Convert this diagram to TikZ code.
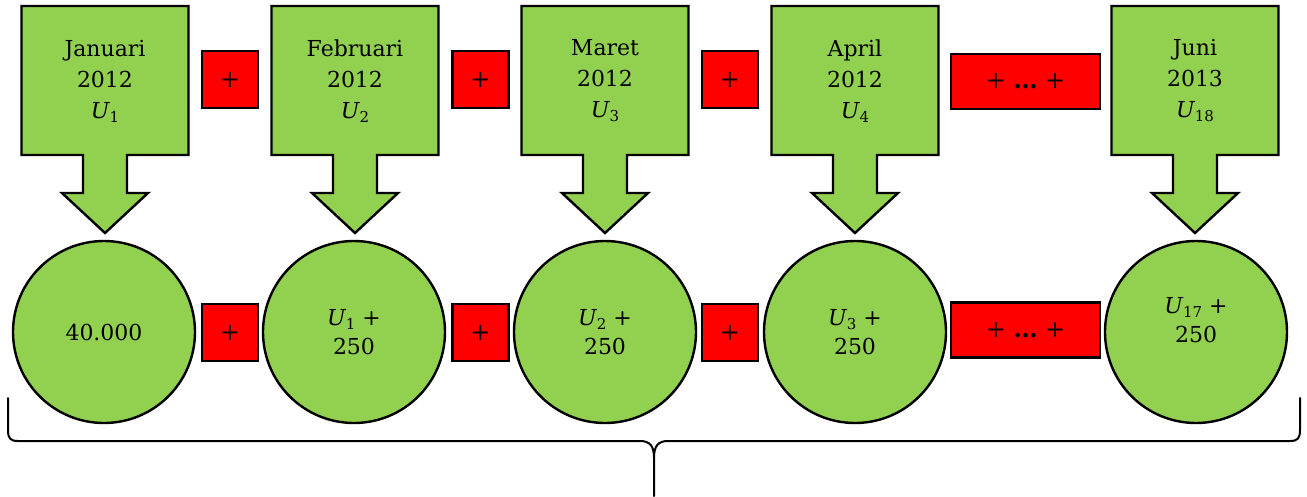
\documentclass[tikz,border=0pt]{standalone}
\usepackage{fontspec}
\setmainfont{DejaVu Serif}
\definecolor{boxgreen}{HTML}{92D050}
\definecolor{boxred}{HTML}{FF0000}
\newcommand\Uc[1]{\textit{U}\kern-0.5pt\raisebox{-4pt}{\fontsize{15}{15}\selectfont #1}}
\tikzset{
  calloutshape/.style={fill=boxgreen, draw=black, line width=2.4pt, line join=miter},
  calltext/.style={align=center, font=\fontsize{22}{31}\selectfont, inner sep=0pt},
  bubble/.style={circle, fill=boxgreen, draw=black, line width=2.4pt, minimum size=182pt, inner sep=0pt, align=center, font=\fontsize{22}{29}\selectfont},
  plusbox/.style={rectangle, fill=boxred, draw=black, line width=2.4pt, minimum width=56pt, minimum height=57pt, inner sep=0pt, font=\fontsize{24}{24}\selectfont},
  widebox/.style={plusbox, minimum width=149pt, minimum height=55pt},
  bracestyle/.style={draw=black, line width=2pt, line cap=round}
}
\begin{document}
\begin{tikzpicture}[x=1pt,y=-1pt]
\useasboundingbox (0,0) rectangle (1307,496);
% callouts
\foreach \cx in {105,355,605,855,1195}{
  \draw[calloutshape] (\cx-83.5,6) -- (\cx+83.5,6) -- (\cx+83.5,155) -- (\cx+22,155) -- (\cx+22,193)
    -- (\cx+43,193) -- (\cx,233) -- (\cx-43,193) -- (\cx-22,193) -- (\cx-22,155) -- (\cx-83.5,155) -- cycle;
}
\node[calltext] (t1) at (105,81) {Januari\\2012\\\Uc{1}};
\node[calltext] (t2) at (355,81) {Februari\\2012\\\Uc{2}};
\node[calltext] (t3) at (605,81) {Maret\\2012\\\Uc{3}};
\node[calltext] (t4) at (855,81) {April\\2012\\\Uc{4}};
\node[calltext] (t5) at (1195,81) {Juni\\2013\\\Uc{18}};
% circles
\node[bubble] (b1) at (104,332) {40.000};
\node[bubble] (b2) at (354,332) {\Uc{1} +\\250};
\node[bubble] (b3) at (605,332) {\Uc{2} +\\250};
\node[bubble] (b4) at (855,332) {\Uc{3} +\\250};
\node[bubble] (b5) at (1196,332) {};
\node[align=center, font=\fontsize{22}{29}\selectfont, inner sep=0pt] (b5t) at (1196,320) {\Uc{17} +\\250};
% plus boxes top
\node[plusbox] (p1) at (230,79.5) {+};
\node[plusbox] (p2) at (480.5,79.5) {+};
\node[plusbox] (p3) at (730,79.5) {+};
\node[widebox] (p4) at (1025.5,81.5) {+ \textbf{…} +};
% plus boxes bottom
\node[plusbox] (q1) at (230,332.5) {+};
\node[plusbox] (q2) at (480.5,332.5) {+};
\node[plusbox] (q3) at (730,332.5) {+};
\node[widebox] (q4) at (1025.5,330) {+ \textbf{…} +};
% brace
\coordinate (bl) at (8,398);
\coordinate (br) at (1300,398);
\coordinate (bm) at (654,496);
\draw[bracestyle] (bl) -- (8,430) .. controls (8,438) and (10,441) .. (18,441) -- (640,441)
  .. controls (650,441) and (654,446) .. (654,458) -- (bm);
\draw[bracestyle] (br) -- (1300,430) .. controls (1300,438) and (1298,441) .. (1290,441) -- (668,441)
  .. controls (658,441) and (654,446) .. (654,458);
\end{tikzpicture}
\end{document}
